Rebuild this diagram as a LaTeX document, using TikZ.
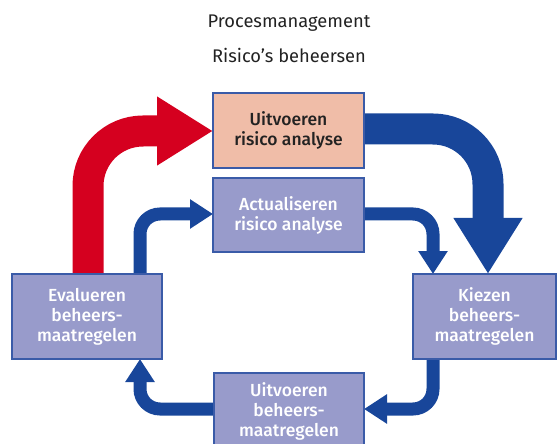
\documentclass[tikz,border=0pt]{standalone}
\usepackage{fontspec}
\setmainfont{Fira Sans}
\newfontfamily\boxfont{Fira Sans Medium}
\usetikzlibrary{arrows.meta}
\definecolor{arrblue}{HTML}{18469A}
\definecolor{arrred}{HTML}{D5001F}
\definecolor{lav}{HTML}{989BCB}
\definecolor{salmon}{HTML}{F0BDA8}
\definecolor{edgeblue}{HTML}{3A5BA8}
\definecolor{darktxt}{HTML}{222222}
\tikzset{
  box/.style={draw=edgeblue, line width=1.5pt, fill=lav, text=white,
    minimum width=150pt, minimum height=75pt, align=center,
    font=\boxfont\fontsize{17.5}{20}\selectfont, inner sep=0pt},
  bigarrow/.style={line width=31pt, rounded corners=55pt,
    -{Triangle[length=56pt,width=65pt]}},
  smallarrow/.style={line width=13pt, rounded corners=20pt, arrblue,
    -{Triangle[length=23pt,width=28pt]}},
  titletext/.style={font=\fontsize{18.3}{21}\selectfont, text=darktxt, inner sep=0pt}
}
\begin{document}
\begin{tikzpicture}[x=1pt,y=-1pt]
\useasboundingbox (0,0) rectangle (558,444);
\node[titletext] (t1) at (289,23) {Procesmanagement};
\node[titletext] (t2) at (289,55) {Risico’s beheersen};
% node positions
\path (288.5,130.5) coordinate (c1) (288.5,215) coordinate (c2)
      (87,316.5) coordinate (c3) (484.5,316.5) coordinate (c4) (289,411) coordinate (c5);
% arrows
\draw[bigarrow, arrred] (88,274) |- (213,131);
\draw[bigarrow, arrblue] (364,129) -| (488,274);
\draw[smallarrow] (364,214) -| (433,274);
\draw[smallarrow] (140,274) |- (213,214);
\draw[smallarrow] (433,359) |- (364,409);
\draw[smallarrow] (214,409) -| (140,359);
% boxes
\node[box, fill=salmon, text=darktxt, minimum width=151pt] (ura) at (c1) {Uitvoeren\\risico analyse};
\node[box, minimum width=151pt, minimum height=74pt] (ara) at (c2) {Actualiseren\\risico analyse};
\node[box, minimum width=150pt, minimum height=85pt] (ebm) at (c3) {Evalueren\\beheers-\\maatregelen};
\node[box, minimum width=143pt, minimum height=85pt] (kbm) at (c4) {Kiezen\\beheers-\\maatregelen};
\node[box, minimum width=150pt, minimum height=76pt] (ubm) at (c5) {Uitvoeren\\beheers-\\maatregelen};
\end{tikzpicture}
\end{document}
